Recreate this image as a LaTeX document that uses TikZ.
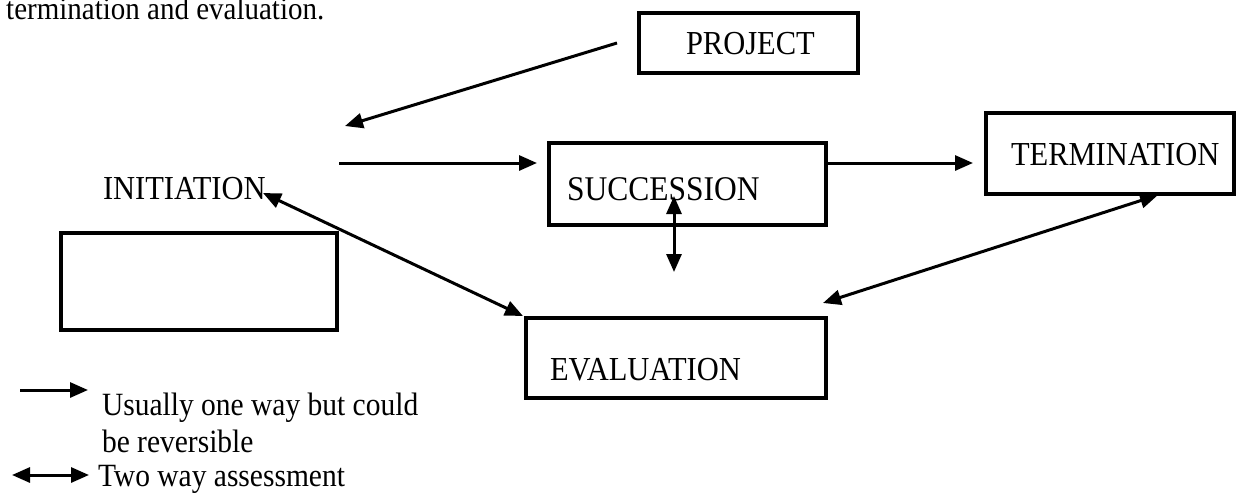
\documentclass[tikz,border=0pt]{standalone}
\usepackage{fontspec}
\setmainfont{Liberation Serif}
\usetikzlibrary{arrows.meta}
\newcommand{\tallt}[1]{\scalebox{1}[1.1]{#1}}
\begin{document}
\begin{tikzpicture}[x=1pt,y=-1pt,
  boxnode/.style={draw=black, line width=3.2pt, rectangle, inner sep=0pt, outer sep=0pt},
  lbl/.style={inner sep=0pt, outer sep=0pt, anchor=base west, font=\fontsize{30.5}{36}\selectfont},
  lgd/.style={inner sep=0pt, outer sep=0pt, anchor=base west, font=\fontsize{29.5}{34}\selectfont},
  onearrow/.style={line width=3pt, -{Triangle[length=18pt,width=15pt]}},
  twoarrow/.style={line width=3pt, {Triangle[length=18pt,width=15pt]}-{Triangle[length=18pt,width=15pt]}}
]
\useasboundingbox (0,0) rectangle (1237,493);
\fill[white] (0,0) rectangle (1237,493);

% top cut text
\node[inner sep=0pt, anchor=base west, font=\fontsize{29}{34}\selectfont] (toptext) at (6,19) {\tallt{termination and evaluation.}};

% boxes
\node[boxnode, minimum width=219pt, minimum height=60pt] (project) at (748.5,43) {};
\node[boxnode, minimum width=277pt, minimum height=82pt] (succ) at (687.5,184) {};
\node[boxnode, minimum width=248pt, minimum height=81pt] (term) at (1110,153.5) {};
\node[boxnode, minimum width=276pt, minimum height=97pt] (empty) at (199,281.5) {};
\node[boxnode, minimum width=300pt, minimum height=80pt] (eval) at (676,358) {};

% labels
\node[lbl] (tproject) at (686,54) {\tallt{PROJECT}};
\node[lbl, font=\fontsize{31.5}{36}\selectfont] (tsucc) at (567,200) {\tallt{SUCCESSION}};
\node[lbl] (tterm) at (1011,165) {\tallt{TERMINATION}};
\node[lbl] (tinit) at (103,199) {\tallt{INITIATION}};
\node[lbl] (teval) at (550,380) {\tallt{EVALUATION}};

% connector end points
\coordinate (p1s) at (617,43);
\coordinate (p1e) at (345,126);
\coordinate (p2s) at (339,163);
\coordinate (p2e) at (537,163);
\coordinate (p3s) at (826,163);
\coordinate (p3e) at (973,163);
\coordinate (p4s) at (263,193);
\coordinate (p4e) at (523,316);
\coordinate (p5s) at (674,196);
\coordinate (p5e) at (674,272);
\coordinate (p6s) at (1158,195);
\coordinate (p6e) at (823,303);

\draw[onearrow] (p1s) -- (p1e);
\draw[onearrow] (p2s) -- (p2e);
\draw[onearrow] (p3s) -- (p3e);
\draw[twoarrow] (p4s) -- (p4e);
\draw[twoarrow] (p5s) -- (p5e);
\draw[twoarrow] (p6s) -- (p6e);

% legend
\coordinate (l1s) at (20,390);
\coordinate (l1e) at (88,390);
\coordinate (l2s) at (12,475);
\coordinate (l2e) at (89,475);
\draw[onearrow] (l1s) -- (l1e);
\draw[twoarrow] (l2s) -- (l2e);
\node[lgd] (lg1) at (102,415) {\tallt{Usually one way but could}};
\node[lgd] (lg2) at (102,452) {\tallt{be reversible}};
\node[lgd] (lg3) at (98,486) {\tallt{Two way assessment}};
\end{tikzpicture}
\end{document}
